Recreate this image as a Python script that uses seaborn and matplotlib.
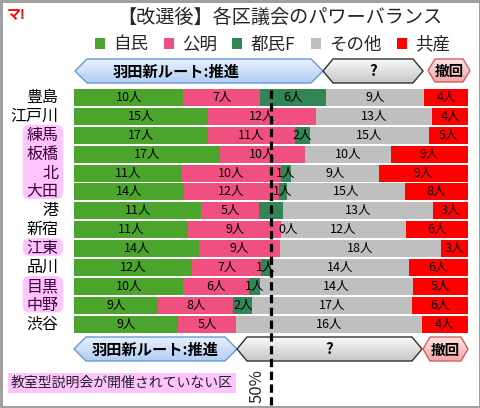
import numpy as np
import pandas as pd
import seaborn as sns
import matplotlib.pyplot as plt
from matplotlib.patches import Polygon, FancyBboxPatch, Patch
from matplotlib.colors import LinearSegmentedColormap

# seats after the election, per ward (top to bottom)
wards = ['豊島', '江戸川', '練馬', '板橋', '北', '大田', '港', '新宿', '江東', '品川', '目黒', '中野', '渋谷']
parties = ['自民', '公明', '都民F', 'その他', '共産']
ldp = [10, 15, 17, 17, 11, 14, 11, 11, 14, 12, 10, 9, 9]
komei = [7, 12, 11, 10, 10, 12, 5, 9, 9, 7, 6, 8, 5]
tomin = [6, 0, 2, 0, 1, 1, 2, 0, 0, 1, 1, 2, 0]
others = [9, 13, 15, 10, 9, 15, 13, 12, 18, 14, 14, 17, 16]
jcp = [4, 4, 5, 9, 9, 8, 3, 6, 3, 6, 5, 6, 4]
party_colors = ['#4ba52d', '#f05080', '#338555', '#bfbfbf', '#ff0000']

# wards without a classroom-style briefing (highlighted groups)
no_briefing = [['練馬', '板橋', '北', '大田'], ['江東'], ['目黒', '中野']]
hidden_labels = {('港', '都民F')}
zero_labels = {('新宿', '都民F')}

df = pd.DataFrame(dict(zip(parties, [ldp, komei, tomin, others, jcp])), index=wards)
pct = df.div(df.sum(axis=1), axis=0) * 100
cum = pct.cumsum(axis=1)

sns.set_style('white')
plt.rcParams['font.family'] = ['Noto Sans CJK JP', 'DejaVu Sans']

W, H = 481, 408
fig = plt.figure(figsize=(W / 100, H / 100), dpi=100)
fig.patch.set_facecolor('white')
fig.patch.set_edgecolor('#a0a0a0')
fig.patch.set_linewidth(2.5)

# background layer in pixel coordinates for arrows and notes
bg = fig.add_axes([0, 0, 1, 1], zorder=0)
bg.set_xlim(0, W)
bg.set_ylim(H, 0)
bg.axis('off')

ax_top, ax_bot = 88, 333.7
ax = fig.add_axes([74 / W, 1 - ax_bot / H, 394 / W, (ax_bot - ax_top) / H], zorder=1)
ax.patch.set_alpha(0)

# stacked bars: draw cumulative totals from the last party back to the first
for party, color in reversed(list(zip(parties, party_colors))):
    sns.barplot(x=cum[party].values, y=wards, order=wards, orient='h', color=color,
                saturation=1, width=0.9, errorbar=None, edgecolor='none', linewidth=0, ax=ax)

for i, ward in enumerate(wards):
    for party in parties:
        v = df.loc[ward, party]
        if (ward, party) in hidden_labels:
            continue
        if v == 0 and (ward, party) not in zero_labels:
            continue
        left = cum.loc[ward, party] - pct.loc[ward, party]
        ax.text(left + pct.loc[ward, party] / 2 + (1.8 if v == 0 else 0), i, f'{v}人',
                ha='center', va='center', fontsize=9, color='black', zorder=3)

ax.axvline(50, ymin=-0.29, ymax=0.995, color='black', lw=2.3,
           linestyle=(0, (2.6, 1.4)), clip_on=False, zorder=6)

ax.set_xlim(0, 100)
ax.set_ylim(len(wards) - 0.5, -0.5)
ax.set_xticks([])
ax.set_yticks([])
ax.set_xlabel('')
ax.set_ylabel('')
sns.despine(ax=ax, left=True, bottom=True)

# ward names, with pink boxes for highlighted groups
highlighted = {w for grp in no_briefing for w in grp}
for grp in no_briefing:
    lo, hi = wards.index(grp[0]), wards.index(grp[-1])
    box = FancyBboxPatch((-13.0, lo - 0.55), 10.2, hi - lo + 0.93,
                         boxstyle='round,pad=0,rounding_size=1.6', mutation_aspect=0.25,
                         fc='#ffc4ff', ec='none', clip_on=False, zorder=1)
    ax.add_patch(box)
for i, ward in enumerate(wards):
    ax.text(-4.0, i, ward, ha='right', va='center', fontsize=11.5,
            color='#3c003c' if ward in highlighted else 'black', clip_on=False, zorder=2)


def arrow(x0, x1, y0, y1, tip, c_top, c_bot, edge, text, text_x=None, fs=11):
    ym = (y0 + y1) / 2
    pts = [(x0, ym), (x0 + tip, y0), (x1 - tip, y0), (x1, ym), (x1 - tip, y1), (x0 + tip, y1)]
    poly = Polygon(pts, closed=True, fc='none', ec=edge, lw=1.0, zorder=2)
    bg.add_patch(poly)
    cmap = LinearSegmentedColormap.from_list('g', [c_top, c_bot])
    grad = np.linspace(0, 1, 64).reshape(-1, 1)
    im = bg.imshow(grad, extent=(x0, x1, y1, y0), cmap=cmap, aspect='auto', zorder=1)
    im.set_clip_path(poly)
    tx = (x0 + x1) / 2 if text_x is None else text_x
    bg.text(tx, ym + 0.5, text, ha='center', va='center', fontsize=fs,
            fontweight='bold', color='black', zorder=3)


blue = ('#e8f1fe', '#b2cdf4', '#6898d6')
gray = ('#fafafa', '#c6c6c6', '#303030')
pink = ('#fde4e4', '#f3a6a6', '#d06060')

arrow(75, 323, 59, 83, 12, *blue, '羽田新ルート:推進', text_x=176)
arrow(323, 423, 59, 83, 10, *gray, '?')
arrow(428, 470, 59, 82, 7, *pink, '撤回', fs=10.5)

arrow(74, 237, 337, 361, 12, *blue, '羽田新ルート:推進')
arrow(237, 422, 337, 361, 10, *gray, '?')
arrow(423, 468, 337, 361, 7, *pink, '撤回', fs=10.5)
bg.set_xlim(0, W)
bg.set_ylim(H, 0)

bg.text(257, 386, '50%', rotation=90, ha='center', va='center', fontsize=12, zorder=3)
bg.text(11, 383, '教室型説明会が開催されていない区', ha='left', va='center', fontsize=10,
        color='#202020', bbox=dict(boxstyle='square,pad=0.2', fc='#ffc4ff', ec='none'))

# title, logo and legend
fig.text(280 / W, 1 - 17.5 / H, '【改選後】各区議会のパワーバランス', ha='center', va='center',
         fontsize=13.8)
fig.text(7 / W, 1 - 14 / H, 'マ!', ha='left', va='center', fontsize=10, color='#ff0000',
         fontweight='bold', style='italic')
handles = [Patch(fc=c, ec='none', label=p) for p, c in zip(parties, party_colors)]
fig.legend(handles=handles, loc='center', bbox_to_anchor=(272.5 / W, 1 - 44.5 / H), ncol=5,
           frameon=False, fontsize=12.6, handlelength=0.57, handleheight=0.57,
           handletextpad=0.46, columnspacing=0.9, borderpad=0)

fig.savefig('out.png', dpi=100)
